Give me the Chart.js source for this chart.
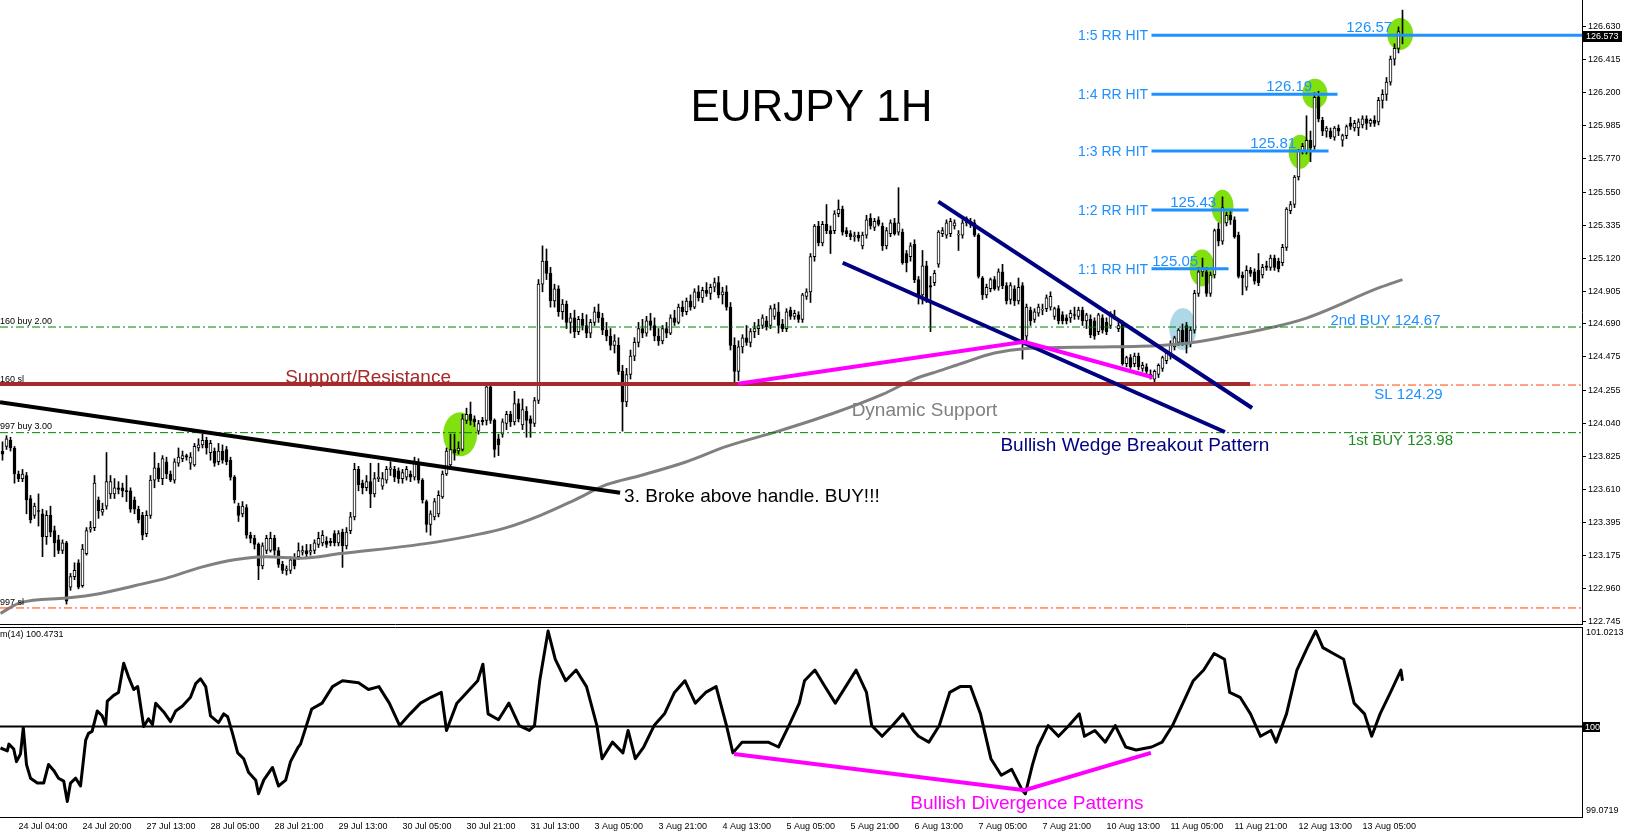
<!DOCTYPE html>
<html><head><meta charset="utf-8">
<script src="https://cdn.jsdelivr.net/npm/chart.js@4.4.0/dist/chart.umd.min.js"></script>
<style>
html,body{margin:0;padding:0;background:#fff;overflow:hidden;}
#wrap{position:relative;width:1626px;height:835px;background:#fff;}
#c1{position:absolute;left:0;top:0;}
#c2{position:absolute;left:0;top:626px;}
</style></head><body>
<div id="wrap"><canvas id="c1" width="1626" height="626"></canvas><canvas id="c2" width="1626" height="209"></canvas></div>
<script>
// ---------------- DATA ----------------
const opens = [
123.86,123.89,123.93,123.88,123.71,123.68,123.70,123.55,123.44,123.47,
123.45,123.30,123.44,123.34,123.28,123.21,123.26,122.97,123.04,123.13,
122.98,123.19,123.35,123.36,123.54,123.46,123.50,123.58,123.58,123.62,
123.62,123.60,123.60,123.54,123.48,123.44,123.32,123.44,123.67,123.75,
123.68,123.79,123.71,123.67,123.78,123.81,123.83,123.78,123.77,123.88,
123.90,123.93,123.85,123.86,123.79,123.86,123.87,123.80,123.69,123.50,
123.45,123.49,123.31,123.29,123.25,123.11,123.21,123.21,123.29,123.21,
123.12,123.08,123.08,123.16,123.17,123.20,123.21,123.20,123.21,123.25,
123.26,123.27,123.27,123.32,123.26,123.33,123.24,123.34,123.43,123.74,
123.65,123.62,123.66,123.58,123.68,123.63,123.67,123.74,123.74,123.73,
123.68,123.69,123.71,123.69,123.78,123.67,123.53,123.38,123.43,123.45,
123.56,123.71,123.77,123.87,123.86,123.87,124.06,124.10,124.07,123.99,
124.06,124.06,124.28,124.06,123.94,123.97,124.04,124.10,124.05,124.17,
124.03,124.12,124.07,124.04,124.19,124.95,125.10,125.02,124.84,124.92,
124.77,124.82,124.70,124.73,124.64,124.72,124.68,124.63,124.70,124.77,
124.73,124.65,124.61,124.55,124.55,124.38,124.18,124.36,124.48,124.57,
124.66,124.63,124.71,124.68,124.61,124.58,124.66,124.63,124.73,124.70,
124.80,124.77,124.84,124.80,124.90,124.86,124.91,124.89,124.93,124.96,
124.88,124.90,124.80,124.55,124.38,124.54,124.60,124.57,124.64,124.66,
124.68,124.71,124.68,124.74,124.77,124.69,124.66,124.78,124.74,124.75,
124.72,124.87,124.90,125.13,125.33,125.22,125.34,125.30,125.30,125.41,
125.44,125.30,125.28,125.26,125.27,125.20,125.27,125.38,125.32,125.37,
125.33,125.20,125.28,125.35,125.29,125.29,125.15,125.13,125.21,124.98,
124.88,125.07,124.94,124.96,125.08,125.28,125.27,125.28,125.33,125.27,
125.27,125.35,125.34,125.35,125.27,124.99,124.88,124.92,124.98,124.93,
125.03,124.94,124.85,124.92,124.84,124.94,124.61,124.78,124.72,124.76,
124.78,124.79,124.80,124.74,124.79,124.75,124.73,124.73,124.75,124.74,
124.78,124.71,124.72,124.71,124.64,124.73,124.70,124.68,124.74,124.66,
124.69,124.43,124.47,124.43,124.48,124.40,124.41,124.36,124.33,124.36,
124.40,124.45,124.48,124.54,124.57,124.65,124.68,124.56,124.65,124.89,
125.03,125.03,124.89,125.01,125.31,125.23,125.35,125.40,125.37,125.27,
125.01,124.93,125.04,125.03,125.04,125.01,125.07,125.06,125.12,125.10,
125.09,125.19,125.43,125.47,125.65,125.82,125.82,125.89,125.85,126.17,
126.02,125.95,125.95,125.91,125.97,125.89,125.92,126.00,125.97,125.97,
125.99,126.03,126.00,126.02,126.01,126.15,126.19,126.27,126.42,126.49,
126.58];
const highs = [
123.92,123.96,123.95,123.89,123.73,123.74,123.72,123.57,123.52,123.58,
123.48,123.47,123.50,123.37,123.31,123.28,123.27,123.06,123.13,123.15,
123.25,123.36,123.40,123.70,123.56,123.52,123.85,123.70,123.68,123.66,
123.65,123.70,123.62,123.56,123.50,123.46,123.47,123.70,123.85,123.78,
123.83,123.82,123.73,123.81,123.88,123.86,123.84,123.85,123.91,123.94,
123.97,123.95,123.93,123.88,123.91,123.90,123.89,123.82,123.70,123.52,
123.53,123.51,123.33,123.31,123.26,123.26,123.31,123.33,123.31,123.23,
123.14,123.11,123.17,123.19,123.26,123.24,123.25,123.25,123.28,123.33,
123.34,123.30,123.29,123.34,123.34,123.35,123.36,123.46,123.78,123.76,
123.67,123.70,123.78,123.72,123.78,123.72,123.76,123.79,123.76,123.75,
123.74,123.76,123.73,123.82,123.81,123.68,123.54,123.47,123.55,123.60,
123.73,123.88,123.97,123.97,123.92,124.10,124.14,124.18,124.09,124.06,
124.08,124.29,124.30,124.07,123.97,124.07,124.12,124.12,124.25,124.20,
124.20,124.15,124.09,124.21,124.98,125.20,125.18,125.06,124.95,124.94,
124.85,124.84,124.76,124.78,124.74,124.76,124.75,124.72,124.80,124.82,
124.76,124.70,124.66,124.62,124.60,124.42,124.40,124.52,124.60,124.70,
124.72,124.74,124.76,124.73,124.66,124.68,124.70,124.75,124.78,124.82,
124.84,124.86,124.88,124.92,124.94,124.93,124.96,124.95,124.99,125.00,
124.93,124.94,124.83,124.60,124.58,124.62,124.68,124.66,124.70,124.72,
124.75,124.74,124.81,124.82,124.83,124.72,124.79,124.80,124.78,124.77,
124.89,124.92,125.15,125.34,125.36,125.36,125.47,125.33,125.43,125.50,
125.46,125.32,125.30,125.29,125.29,125.29,125.40,125.41,125.38,125.39,
125.35,125.32,125.37,125.38,125.58,125.31,125.17,125.22,125.24,125.00,
125.17,125.10,125.00,125.04,125.30,125.32,125.37,125.38,125.37,125.30,
125.37,125.39,125.38,125.37,125.28,125.00,124.95,124.99,125.00,125.05,
125.08,124.96,124.96,124.94,124.99,124.96,124.82,124.80,124.79,124.82,
124.82,124.88,124.90,124.80,124.81,124.77,124.75,124.78,124.80,124.80,
124.80,124.76,124.75,124.73,124.76,124.75,124.73,124.77,124.78,124.70,
124.71,124.48,124.49,124.50,124.50,124.44,124.43,124.39,124.39,124.43,
124.48,124.51,124.58,124.61,124.66,124.69,124.70,124.67,124.91,125.06,
125.12,125.06,125.03,125.31,125.35,125.52,125.42,125.43,125.39,125.29,
125.03,125.07,125.06,125.05,125.15,125.08,125.10,125.14,125.14,125.12,
125.21,125.45,125.49,125.66,125.83,125.87,126.05,125.95,126.20,126.21,
126.04,125.98,125.97,125.98,125.99,125.93,125.99,126.04,126.02,126.03,
126.05,126.05,126.03,126.05,126.17,126.22,126.30,126.44,126.52,126.63,
126.74];
const lows = [
123.80,123.87,123.86,123.65,123.66,123.66,123.45,123.39,123.42,123.37,
123.17,123.25,123.30,123.17,123.19,123.19,122.86,122.95,123.02,122.96,
122.97,123.18,123.33,123.34,123.42,123.44,123.48,123.55,123.55,123.58,
123.56,123.53,123.46,123.45,123.39,123.28,123.30,123.42,123.62,123.66,
123.64,123.68,123.66,123.65,123.76,123.79,123.80,123.74,123.76,123.86,
123.88,123.84,123.80,123.76,123.77,123.78,123.77,123.67,123.52,123.40,
123.43,123.29,123.26,123.22,123.02,123.09,123.19,123.20,123.18,123.10,
123.06,123.05,123.06,123.09,123.15,123.18,123.17,123.18,123.19,123.23,
123.24,123.23,123.24,123.24,123.24,123.10,123.22,123.32,123.41,123.60,
123.58,123.60,123.49,123.56,123.66,123.61,123.65,123.70,123.66,123.65,
123.65,123.67,123.66,123.67,123.65,123.52,123.33,123.31,123.41,123.43,
123.55,123.70,123.75,123.80,123.84,123.86,124.04,124.03,124.02,123.97,
124.03,124.03,124.04,123.82,123.83,123.95,124.00,124.02,124.03,124.05,
124.00,123.95,123.95,124.02,124.17,124.90,124.98,124.80,124.80,124.74,
124.72,124.66,124.63,124.60,124.62,124.65,124.60,124.60,124.68,124.70,
124.62,124.58,124.52,124.50,124.36,123.99,124.15,124.33,124.45,124.54,
124.60,124.61,124.65,124.58,124.55,124.56,124.60,124.62,124.68,124.69,
124.74,124.75,124.78,124.79,124.84,124.83,124.87,124.85,124.90,124.86,
124.82,124.78,124.52,124.30,124.32,124.50,124.55,124.54,124.60,124.62,
124.66,124.65,124.66,124.72,124.63,124.64,124.64,124.72,124.72,124.70,
124.70,124.85,124.83,125.10,125.20,125.20,125.28,125.15,125.28,125.39,
125.27,125.26,125.24,125.23,125.23,125.18,125.25,125.31,125.30,125.33,
125.17,125.18,125.26,125.27,125.27,125.08,125.03,125.10,124.96,124.82,
124.82,124.83,124.64,124.94,125.06,125.26,125.25,125.26,125.31,125.17,
125.25,125.33,125.32,125.26,124.99,124.85,124.86,124.90,124.91,124.91,
124.92,124.82,124.82,124.81,124.82,124.46,124.58,124.68,124.70,124.74,
124.75,124.77,124.78,124.72,124.69,124.69,124.69,124.70,124.72,124.72,
124.68,124.66,124.60,124.59,124.62,124.63,124.62,124.66,124.72,124.64,
124.42,124.41,124.40,124.41,124.39,124.38,124.36,124.33,124.31,124.34,
124.38,124.43,124.46,124.52,124.55,124.55,124.50,124.54,124.63,124.87,
125.00,124.87,124.87,124.99,125.20,125.21,125.33,125.34,125.25,124.99,
124.88,124.91,125.00,124.95,124.94,124.99,125.04,125.04,125.04,125.03,
125.07,125.17,125.41,125.45,125.63,125.80,125.80,125.75,125.83,126.01,
125.92,125.91,125.90,125.89,125.92,125.85,125.90,125.96,125.95,125.92,
125.97,125.96,125.98,125.98,125.99,126.10,126.15,126.25,126.38,126.46,
126.52];
const closes = [
123.84,123.94,123.88,123.71,123.68,123.71,123.54,123.41,123.50,123.465,
123.30,123.44,123.33,123.26,123.21,123.26,122.88,123.04,123.08,122.97,
123.22,123.34,123.36,123.65,123.47,123.48,123.66,123.66,123.62,123.61,
123.60,123.595,123.48,123.48,123.41,123.31,123.44,123.67,123.75,123.68,
123.81,123.71,123.67,123.79,123.82,123.83,123.82,123.82,123.89,123.90,
123.93,123.88,123.91,123.78,123.86,123.80,123.79,123.69,123.54,123.44,
123.50,123.31,123.29,123.25,123.11,123.24,123.29,123.29,123.21,123.12,
123.08,123.09,123.15,123.11,123.21,123.21,123.19,123.21,123.26,123.29,
123.31,123.25,123.26,123.26,123.32,123.24,123.33,123.43,123.74,123.64,
123.62,123.66,123.58,123.68,123.69,123.68,123.74,123.75,123.69,123.68,
123.72,123.74,123.69,123.78,123.67,123.54,123.38,123.45,123.53,123.57,
123.71,123.86,123.87,123.85,123.88,124.07,124.10,124.06,124.05,124.04,
124.05,124.28,124.06,123.87,123.90,124.05,124.10,124.05,124.17,124.07,
124.13,124.06,124.04,124.19,124.95,125.10,125.02,124.84,124.92,124.77,
124.82,124.70,124.73,124.64,124.72,124.68,124.63,124.70,124.77,124.73,
124.65,124.61,124.55,124.58,124.38,124.18,124.36,124.48,124.57,124.66,
124.63,124.71,124.68,124.61,124.58,124.66,124.63,124.73,124.70,124.80,
124.77,124.84,124.80,124.90,124.86,124.91,124.89,124.93,124.96,124.88,
124.90,124.80,124.55,124.38,124.54,124.60,124.57,124.64,124.66,124.68,
124.73,124.67,124.79,124.79,124.68,124.66,124.77,124.74,124.76,124.72,
124.88,124.90,125.13,125.33,125.22,125.34,125.30,125.28,125.41,125.44,
125.29,125.28,125.26,125.265,125.25,125.27,125.37,125.33,125.36,125.34,
125.20,125.30,125.35,125.28,125.35,125.09,125.09,125.20,124.98,124.87,
125.07,124.84,124.93,125.02,125.29,125.30,125.35,125.36,125.35,125.27,
125.35,125.38,125.36,125.27,125.00,124.88,124.93,124.98,124.92,125.03,
124.94,124.84,124.94,124.84,124.93,124.57,124.80,124.71,124.77,124.80,
124.785,124.86,124.87,124.79,124.71,124.71,124.71,124.76,124.745,124.78,
124.71,124.75,124.62,124.61,124.75,124.65,124.64,124.75,124.735,124.68,
124.43,124.47,124.41,124.48,124.41,124.42,124.38,124.355,124.38,124.42,
124.47,124.50,124.56,124.60,124.65,124.57,124.56,124.65,124.89,125.03,
125.05,124.89,125.01,125.30,125.23,125.45,125.40,125.37,125.26,125.00,
124.99,125.04,125.02,124.97,124.96,125.06,125.06,125.12,125.06,125.05,
125.19,125.44,125.47,125.65,125.82,125.85,125.89,125.84,126.17,126.03,
125.95,125.97,125.91,125.97,125.95,125.92,125.98,125.98,126.00,126.01,
126.03,126.00,126.02,126.00,126.15,126.19,126.27,126.42,126.49,126.60,
126.573];

// moving average (at sample bars)
const maBars = [-0.5,4.5,16,24.5,33,41,49.5,58,66,74.5,84.5,109.5,126,134.5,143,151,159.5,171,181,194,207,220,228,235,239.5,248,256,273,289.5,298,304.5,325,344.5,350];
const maVals = [122.80,122.87,122.90,122.93,122.98,123.03,123.10,123.15,123.17,123.16,123.19,123.27,123.36,123.44,123.54,123.64,123.70,123.79,123.89,123.99,124.10,124.23,124.33,124.39,124.43,124.50,124.53,124.54,124.55,124.57,124.60,124.72,124.93,124.98];

// momentum(14) line
const momBars = [-0.5,1.2,1.6,2.8,3.5,4.5,5.2,6,7,8.7,10.3,11.5,12.8,14,15.3,16.2,17,18.3,19.5,20.8,21.5,22.4,23.7,24.9,25.8,26.2,27.8,29,30.3,31.5,32.8,33.8,35.3,36.5,37.5,38.3,40.3,42,43.3,45,47,48.3,49.5,50.8,52,54,55.3,56.3,57.5,58.8,60.3,61.5,63.3,64,65.3,67.5,69,70.8,72,73.8,74.5,
77.3,79.9,82.5,85,89,91.5,94.1,96.7,99.3,101.9,104.5,107.1,109.7,111,113.6,118.8,120.1,121.4,124,126.6,129.2,131.7,133,134.3,136.4,138.2,140.8,143.4,146,148.6,149.9,152.5,155.1,156.4,158.2,160.3,162.9,165.5,168,170.6,173.2,175.8,178.4,181,182.6,184.9,187.5,191.4,194,196.6,199.2,200.5,203.1,205.6,208.2,210.8,213.4,216,217.3,219.9,222.5,225.1,227.7,229,231.6,234.2,236.8,239.4,242,244.5,247.1,249.7,252.3,254.9,255.7,257.5,258.8,261.4,264,266.6,269.2,270.5,273.1,275.7,278.2,280.8,283.4,287.3,289.9,292.5,295.1,297.7,300.3,302.9,305.5,306.8,309.4,312,314.5,317.1,318.4,321,323.6,326.2,328.3,330.1,332.7,335.3,337.9,340.5,342.3,344.4,347,349.6,350];
const momVals = [99.78,99.75,99.82,99.77,99.64,99.72,99.99,99.61,99.47,99.42,99.42,99.61,99.55,99.47,99.44,99.23,99.42,99.47,99.39,99.86,99.93,99.95,100.16,100.11,100.02,100.26,100.32,100.35,100.65,100.51,100.38,100.41,100.00,100.08,100.02,100.24,100.15,100.05,100.16,100.21,100.30,100.44,100.49,100.41,100.11,100.04,100.13,100.10,99.93,99.73,99.67,99.53,99.45,99.31,99.45,99.58,99.39,99.45,99.64,99.78,99.82,
100.18,100.24,100.41,100.47,100.45,100.38,100.41,100.24,100.01,100.13,100.24,100.30,100.35,99.96,100.24,100.47,100.64,100.13,100.07,100.24,100.01,99.96,100.01,100.47,100.98,100.69,100.47,100.58,100.41,100.01,99.67,99.84,99.73,99.96,99.67,99.79,100.01,100.13,100.35,100.47,100.24,100.35,100.41,100.01,99.73,99.84,99.84,99.84,99.79,100.01,100.24,100.47,100.58,100.41,100.24,100.41,100.58,100.35,100.01,99.90,100.01,100.13,99.96,99.90,99.84,100.01,100.35,100.41,100.41,100.13,99.67,99.50,99.56,99.35,99.31,99.61,99.79,100.01,99.90,100.01,100.13,99.90,99.96,99.84,100.01,99.79,99.76,99.79,99.84,100.01,100.24,100.47,100.58,100.75,100.69,100.35,100.30,100.13,99.90,99.96,99.84,100.13,100.58,100.81,100.98,100.81,100.75,100.69,100.24,100.13,99.90,100.13,100.35,100.58,100.47];

// axis ticks
const priceTicks = [126.630,126.415,126.200,125.985,125.770,125.550,125.335,125.120,124.905,124.690,124.475,124.255,124.040,123.825,123.610,123.395,123.175,122.960,122.745];
const priceTickLabels = ['126.630','126.415','126.200','125.985','125.770','125.550','125.335','125.120','124.905','124.690','124.475','124.255','124.040','123.825','123.610','123.395','123.175','122.960','122.745'];
const timeTickBars = [4,20,36,52,68,84,100,116,132,148,164,180,196,212,228,244,260,276,292,308,324,340];
const timeTickLabels = ['24 Jul 04:00','24 Jul 20:00','27 Jul 13:00','28 Jul 05:00','28 Jul 21:00','29 Jul 13:00','30 Jul 05:00','30 Jul 21:00','31 Jul 13:00','3 Aug 05:00','3 Aug 21:00','4 Aug 13:00','5 Aug 05:00','5 Aug 21:00','6 Aug 13:00','7 Aug 05:00','7 Aug 21:00','10 Aug 13:00','11 Aug 05:00','11 Aug 21:00','12 Aug 13:00','13 Aug 05:00'];
const momTickVals = [101.0213, 100, 99.0719];
const momTickLabels = ['101.0213','100','99.0719'];

// trade levels
const rrPrices = [125.05, 125.435, 125.82, 126.19, 126.575];
const rrNames = ['1:1 RR HIT','1:2 RR HIT','1:3 RR HIT','1:4 RR HIT','1:5 RR HIT'];
const rrValueLabels = ['125.05','125.43','125.81','126.19','126.57'];
const buy1 = 123.98, buy2 = 124.67, slUpper = 124.291, slLower = 122.835, srLevel = 124.298;
const lastPrice = '126.573';

// ---------------- LAYOUT / STYLE ----------------
const X_MIN = -0.625, X_MAX = 394.875;
const Y_MIN = 122.7302, Y_MAX = 126.806;
const M_MIN = 99.0719, M_MAX = 101.0213;
const FONT = '"Liberation Sans", Arial, sans-serif';
Chart.defaults.font.family = FONT;
const BLUE = '#1e90ff', GREEN_LVL = '#008000', ORANGE = '#ff4500';

function seg(points, color, width, dash, order) {
  return {type:'line', data: points.map(p=>({x:p[0], y:p[1]})), borderColor: color, borderWidth: width,
    borderDash: dash || [], pointRadius: 0, fill: false, tension: 0, order: order, borderCapStyle: 'butt'};
}

const rrEnds = [306.5, 311.5, 331.5, 333.75, X_MAX];
const rrStart = 287.25;

const ellipses = [
  {x:114.4, y:123.969, rx:17, ry:22, c:'#80e010'},
  {x:299.9, y:125.056, rx:12.5, ry:18.5, c:'#80e010'},
  {x:305.0, y:125.456, rx:11, ry:17, c:'#80e010'},
  {x:324.4, y:125.815, rx:11.5, ry:17, c:'#80e010'},
  {x:328.1, y:126.194, rx:12.5, ry:15, c:'#80e010'},
  {x:349.4, y:126.584, rx:13, ry:16, c:'#80e010'},
  {x:295.1, y:124.657, rx:13.5, ry:21, c:'#add8e6'}
];

const texts = [
  {t:'EURJPY 1H', x:202.25, y:126.094, c:'#000', f:'44px '+FONT, a:'center', b:'middle'},
  {t:'Support/Resistance', x:91.4, y:124.337, c:'#a52a2a', f:'19px '+FONT, a:'center', b:'middle'},
  {t:'Dynamic Support', x:230.5, y:124.121, c:'#808080', f:'19px '+FONT, a:'center', b:'middle'},
  {t:'Bullish Wedge Breakout Pattern', x:283.1, y:123.893, c:'#000080', f:'19px '+FONT, a:'center', b:'middle'},
  {t:'3. Broke above handle. BUY!!!', x:155.4, y:123.560, c:'#000', f:'19px '+FONT, a:'left', b:'middle'},
  {t:'2nd BUY 124.67', x:345.75, y:124.713, c:BLUE, f:'15px '+FONT, a:'center', b:'middle'},
  {t:'SL 124.29', x:351.5, y:124.226, c:BLUE, f:'15px '+FONT, a:'center', b:'middle'},
  {t:'1st BUY 123.98', x:349.5, y:123.926, c:'#228b22', f:'15px '+FONT, a:'center', b:'middle'},
  {t:'160 buy 2.00', x:X_MIN, y:124.690, c:'#000', f:'9px '+FONT, a:'left', b:'alphabetic'},
  {t:'160 sl', x:X_MIN, y:124.311, c:'#000', f:'9px '+FONT, a:'left', b:'alphabetic'},
  {t:'997 buy 3.00', x:X_MIN, y:124.001, c:'#000', f:'9px '+FONT, a:'left', b:'alphabetic'},
  {t:'997 sl', x:X_MIN, y:122.854, c:'#000', f:'9px '+FONT, a:'left', b:'alphabetic'}
];
const rrNameX = 286.4;
const rrValueX = [298.9, 303.4, 323.4, 327.4, 347.4];

// ---------------- MAIN CHART ----------------
const candleIdx = closes.map((c,i)=>i);
const isUp = i => closes[i] >= opens[i];

const mainOverlay = {
  id: 'mainOverlay',
  beforeDatasetsDraw(chart) {
    const {ctx, scales:{x, y}} = chart;
    ctx.save();
    for (const e of ellipses) {
      ctx.fillStyle = e.c;
      ctx.beginPath();
      ctx.ellipse(x.getPixelForValue(e.x), y.getPixelForValue(e.y), e.rx, e.ry, 0, 0, Math.PI*2);
      ctx.fill();
    }
    ctx.restore();
  },
  afterDatasetsDraw(chart) {
    const {ctx, scales:{x, y}} = chart;
    ctx.save();
    for (const t of texts) {
      ctx.font = t.f; ctx.fillStyle = t.c; ctx.textAlign = t.a; ctx.textBaseline = t.b;
      ctx.fillText(t.t, x.getPixelForValue(t.x), y.getPixelForValue(t.y));
    }
    ctx.fillStyle = BLUE;
    rrPrices.forEach((p, k) => {
      ctx.font = '14px ' + FONT;
      ctx.textAlign = 'right'; ctx.textBaseline = 'middle';
      ctx.fillText(rrNames[k], x.getPixelForValue(rrNameX), y.getPixelForValue(p) + 1);
      ctx.font = '15px ' + FONT;
      ctx.textBaseline = 'alphabetic';
      ctx.fillText(rrValueLabels[k], x.getPixelForValue(rrValueX[k]), y.getPixelForValue(p) - 3);
    });
    ctx.restore();
  },
  afterDraw(chart) {
    const {ctx, chartArea, scales:{y}} = chart;
    ctx.save();
    ctx.strokeStyle = '#000'; ctx.lineWidth = 1;
    ctx.beginPath(); ctx.moveTo(0, chartArea.bottom + 0.5); ctx.lineTo(chartArea.right, chartArea.bottom + 0.5); ctx.stroke();
    const py = Math.round(y.getPixelForValue(parseFloat(lastPrice)));
    ctx.fillStyle = '#000';
    ctx.fillRect(chartArea.right + 1, py - 5, 39, 11);
    ctx.fillStyle = '#fff'; ctx.font = '9px ' + FONT; ctx.textAlign = 'left'; ctx.textBaseline = 'middle';
    ctx.fillText(lastPrice, chartArea.right + 4, py + 0.5);
    ctx.restore();
  }
};

const mainDatasets = [
  seg([[183.9,124.300],[255.4,124.574],[287.55,124.342]], '#ff00ff', 4, null, 1),
  seg([[233.95,125.489],[312.4,124.141]], '#000080', 4, null, 1),
  seg([[210.05,125.090],[305.6,123.984]], '#000080', 4, null, 1),
  seg([[X_MIN,124.178],[154.4,123.588]], '#000', 4, null, 1),
  ...rrPrices.map((p,k)=>seg([[rrStart,p],[rrEnds[k],p]], BLUE, 3, null, 1)),
  seg([[X_MIN,srLevel],[311.9,srLevel]], '#a52a2a', 4, null, 2),
  seg([[X_MIN,buy2],[X_MAX,buy2]], GREEN_LVL, 1, [8,3,2,3], 3),
  seg([[X_MIN,buy1],[X_MAX,buy1]], GREEN_LVL, 1, [8,3,2,3], 3),
  seg([[X_MIN,slUpper],[X_MAX,slUpper]], ORANGE, 1, [8,3,2,3], 3),
  seg([[X_MIN,slLower],[X_MAX,slLower]], ORANGE, 1, [8,3,2,3], 3),
  {type:'line', data: maBars.map((b,i)=>({x:b, y:maVals[i]})), borderColor:'#808080', borderWidth:3,
   pointRadius:0, fill:false, cubicInterpolationMode:'monotone', order:4},
  {type:'bar', data: candleIdx.map(i=>({x:i, y:[opens[i], closes[i]]})), barThickness:3, grouped:false,
   minBarLength:1, borderWidth:1, borderColor:'#000', borderSkipped:false,
   backgroundColor: ctx => isUp(ctx.dataIndex) ? '#fff' : '#000', order:8},
  {type:'bar', data: candleIdx.map(i=>({x:i, y:[lows[i], highs[i]]})), barThickness:1, grouped:false,
   backgroundColor:'#000', borderWidth:0, order:9}
];

new Chart(document.getElementById('c1'), {
  type: 'bar',
  data: {datasets: mainDatasets},
  options: {
    responsive:false, animation:false, devicePixelRatio:1, events:[],
    layout:{padding:{left:0,right:0,top:0,bottom:2}, autoPadding:false},
    plugins:{legend:{display:false}, tooltip:{enabled:false}},
    scales:{
      x:{type:'linear', min:X_MIN, max:X_MAX, display:false, offset:false, grid:{offset:false}},
      y:{position:'right', min:Y_MIN, max:Y_MAX, beginAtZero:false,
         afterFit(s){ s.width = 44; s.paddingTop = 0; s.paddingBottom = 0; },
         afterBuildTicks(s){ s.ticks = priceTicks.map(v=>({value:v})); },
         ticks:{callback:(v,i)=>priceTickLabels[i], color:'#000', font:{size:9, family:FONT}, padding:2, autoSkip:false},
         grid:{display:true, drawOnChartArea:false, drawTicks:true, tickLength:4, color:'#000'},
         border:{display:true, color:'#000', width:1}}
    }
  },
  plugins:[mainOverlay]
});

// ---------------- MOMENTUM CHART ----------------
const momOverlay = {
  id:'momOverlay',
  afterDraw(chart) {
    const {ctx, chartArea, scales:{x, y}} = chart;
    ctx.save();
    ctx.strokeStyle = '#000'; ctx.lineWidth = 1;
    ctx.beginPath(); ctx.moveTo(0, chartArea.top + 0.5); ctx.lineTo(chartArea.right, chartArea.top + 0.5); ctx.stroke();
    ctx.font = '9px ' + FONT; ctx.textBaseline = 'middle'; ctx.textAlign = 'left';
    const yTop = y.getPixelForValue(momTickVals[0]) + 6;
    const yMid = Math.round(y.getPixelForValue(momTickVals[1]));
    const yBot = y.getPixelForValue(momTickVals[2]) - 6;
    ctx.fillStyle = '#000';
    ctx.fillText(momTickLabels[0], chartArea.right + 4, yTop);
    ctx.fillText(momTickLabels[2], chartArea.right + 4, yBot);
    ctx.fillRect(chartArea.right + 1, yMid - 5, 17, 10);
    ctx.fillStyle = '#fff';
    ctx.fillText(momTickLabels[1], chartArea.right + 3, yMid + 0.5);
    ctx.fillStyle = '#000';
    ctx.fillText('m(14) 100.4731', 0, chartArea.top + 8);
    ctx.font = '19px ' + FONT; ctx.fillStyle = '#ff00ff'; ctx.textAlign = 'center';
    ctx.fillText('Bullish Divergence Patterns', x.getPixelForValue(256.1), y.getPixelForValue(99.205));
    ctx.restore();
  }
};

new Chart(document.getElementById('c2'), {
  type:'line',
  data:{datasets:[
    seg([[182.9,99.718],[255.5,99.347],[287.1,99.729]], '#ff00ff', 4, null, 1),
    {data: momBars.map((b,i)=>({x:b, y:momVals[i]})), borderColor:'#000', borderWidth:3, pointRadius:0, fill:false, tension:0, order:2, borderJoinStyle:'round'},
    seg([[X_MIN,100],[X_MAX,100]], '#000', 2, null, 3)
  ]},
  options:{
    responsive:false, animation:false, devicePixelRatio:1, events:[],
    layout:{padding:{left:0,right:0,top:1,bottom:0}, autoPadding:false},
    plugins:{legend:{display:false}, tooltip:{enabled:false}},
    scales:{
      x:{type:'linear', min:X_MIN, max:X_MAX, offset:false,
         afterFit(s){ s.height = 18; s.paddingLeft = 0; s.paddingRight = 0; },
         afterBuildTicks(s){ s.ticks = timeTickBars.map(v=>({value:v})); },
         ticks:{callback:(v,i)=>timeTickLabels[i], align:'start', maxRotation:0, autoSkip:false, color:'#000', font:{size:9, family:FONT}, padding:4},
         grid:{display:false, drawTicks:false}, border:{display:true, color:'#000', width:1}},
      y:{position:'right', min:M_MIN, max:M_MAX,
         afterFit(s){ s.width = 44; s.paddingTop = 0; s.paddingBottom = 0; },
         ticks:{display:false}, grid:{display:false},
         border:{display:true, color:'#000', width:1}}
    }
  },
  plugins:[momOverlay]
});
</script>
</body></html>
